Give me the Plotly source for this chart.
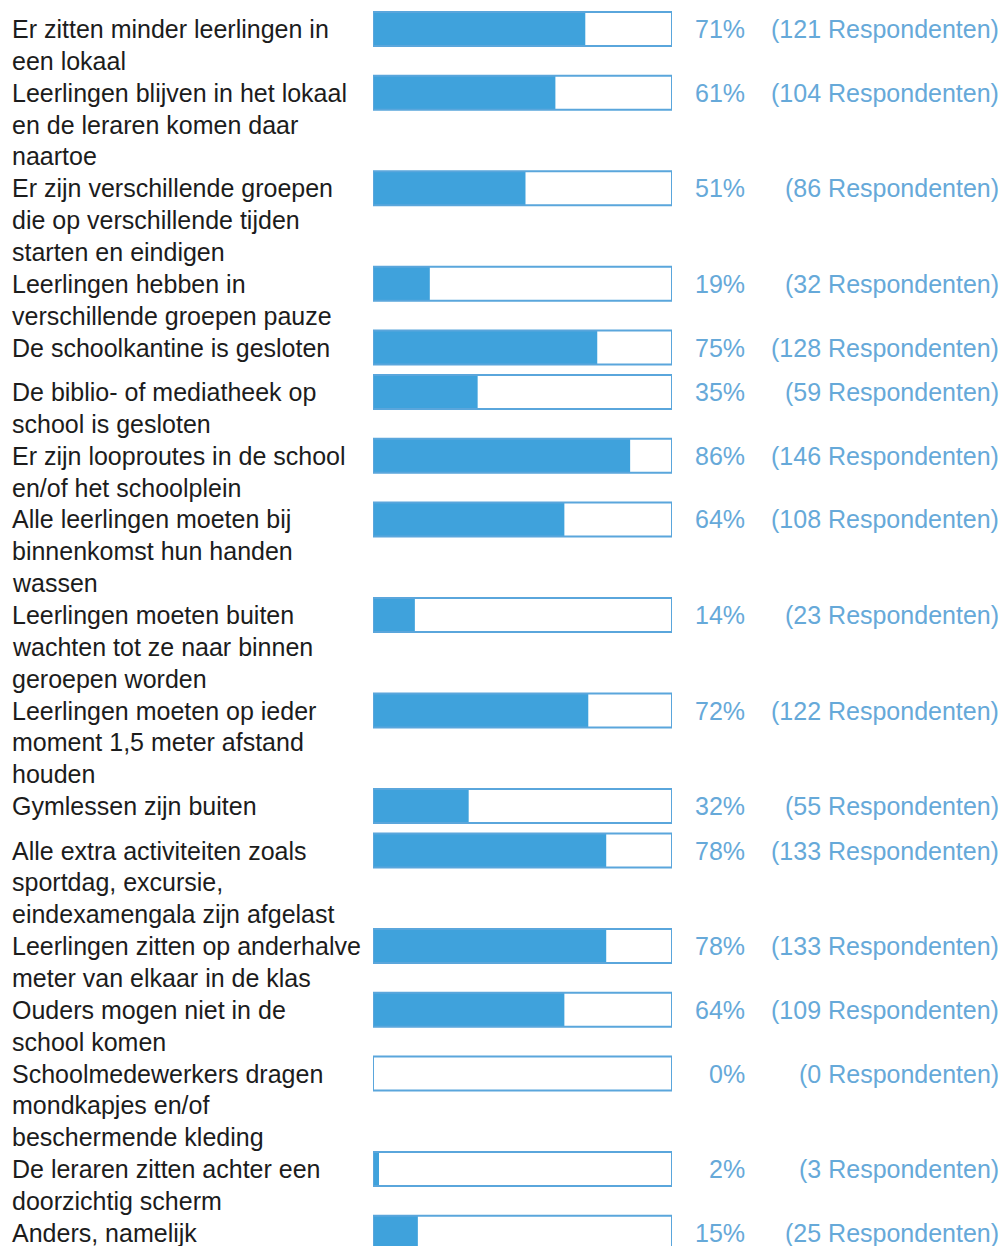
import plotly.graph_objects as go

# ---- data ----
labels = [
    "Er zitten minder leerlingen in\neen lokaal",
    "Leerlingen blijven in het lokaal\nen de leraren komen daar\nnaartoe",
    "Er zijn verschillende groepen\ndie op verschillende tijden\nstarten en eindigen",
    "Leerlingen hebben in\nverschillende groepen pauze",
    "De schoolkantine is gesloten",
    "De biblio- of mediatheek op\nschool is gesloten",
    "Er zijn looproutes in de school\nen/of het schoolplein",
    "Alle leerlingen moeten bij\nbinnenkomst hun handen\nwassen",
    "Leerlingen moeten buiten\nwachten tot ze naar binnen\ngeroepen worden",
    "Leerlingen moeten op ieder\nmoment 1,5 meter afstand\nhouden",
    "Gymlessen zijn buiten",
    "Alle extra activiteiten zoals\nsportdag, excursie,\neindexamengala zijn afgelast",
    "Leerlingen zitten op anderhalve\nmeter van elkaar in de klas",
    "Ouders mogen niet in de\nschool komen",
    "Schoolmedewerkers dragen\nmondkapjes en/of\nbeschermende kleding",
    "De leraren zitten achter een\ndoorzichtig scherm",
    "Anders, namelijk",
]
percentages = [71, 61, 51, 19, 75, 35, 86, 64, 14, 72, 32, 78, 78, 64, 0, 2, 15]
respondents = [121, 104, 86, 32, 128, 59, 146, 108, 23, 122, 55, 133, 133, 109, 0, 3, 25]

# ---- layout parameters ----
W, H = 1003, 1246
LINE_H = 31.85
SINGLE_H = 44.5
FIRST_Y = 29
BAR_H = 34
BAR_X0, BAR_X1 = 373, 672
FILL = "#3fa2dc"
OUTLINE = "#5aa6dc"
PCT_COLOR = "#66a9d9"
TEXT_COLOR = "#1c1c1c"
FONT = "Liberation Sans, Arial, sans-serif"
FS = 25

lines_per = [lab.split("\n") for lab in labels]
centers = []
y = FIRST_Y
for ls in lines_per:
    centers.append(y)
    y += max(len(ls) * LINE_H, SINGLE_H)

fig = go.Figure()
fig.add_trace(go.Bar(
    x=[p / 100 for p in percentages], y=centers, orientation="h",
    width=BAR_H, marker=dict(color=FILL, line=dict(width=0)),
    hoverinfo="skip", showlegend=False,
))
fig.add_trace(go.Bar(
    x=[1] * len(percentages), y=centers, orientation="h",
    width=BAR_H, marker=dict(color="rgba(0,0,0,0)", line=dict(width=2, color=OUTLINE)),
    hoverinfo="skip", showlegend=False,
))

annotations = []
for ls, c, p, r in zip(lines_per, centers, percentages, respondents):
    for k, line in enumerate(ls):
        annotations.append(dict(
            text=line, xref="paper", yref="y", x=10 / W, y=c + k * LINE_H,
            xanchor="left", yanchor="middle", showarrow=False,
            font=dict(family=FONT, size=FS, color=TEXT_COLOR),
        ))
    annotations.append(dict(
        text=f"{p}%", xref="paper", yref="y", x=747 / W, y=c,
        xanchor="right", yanchor="middle", showarrow=False,
        font=dict(family=FONT, size=FS, color=PCT_COLOR),
    ))
    annotations.append(dict(
        text=f"({r} Respondenten)", xref="paper", yref="y", x=1001 / W, y=c,
        xanchor="right", yanchor="middle", showarrow=False,
        font=dict(family=FONT, size=FS, color=PCT_COLOR),
    ))

fig.update_layout(
    width=W, height=H, margin=dict(l=0, r=0, t=0, b=0),
    paper_bgcolor="white", plot_bgcolor="white",
    barmode="overlay",
    xaxis=dict(domain=[BAR_X0 / W, BAR_X1 / W], range=[0, 1], visible=False, fixedrange=True),
    yaxis=dict(range=[H, 0], visible=False, fixedrange=True),
    annotations=annotations,
)

fig.write_html(
    "out.html",
    config={"displayModeBar": False},
    post_script="document.body.style.margin='0';document.body.style.overflow='hidden';",
)
